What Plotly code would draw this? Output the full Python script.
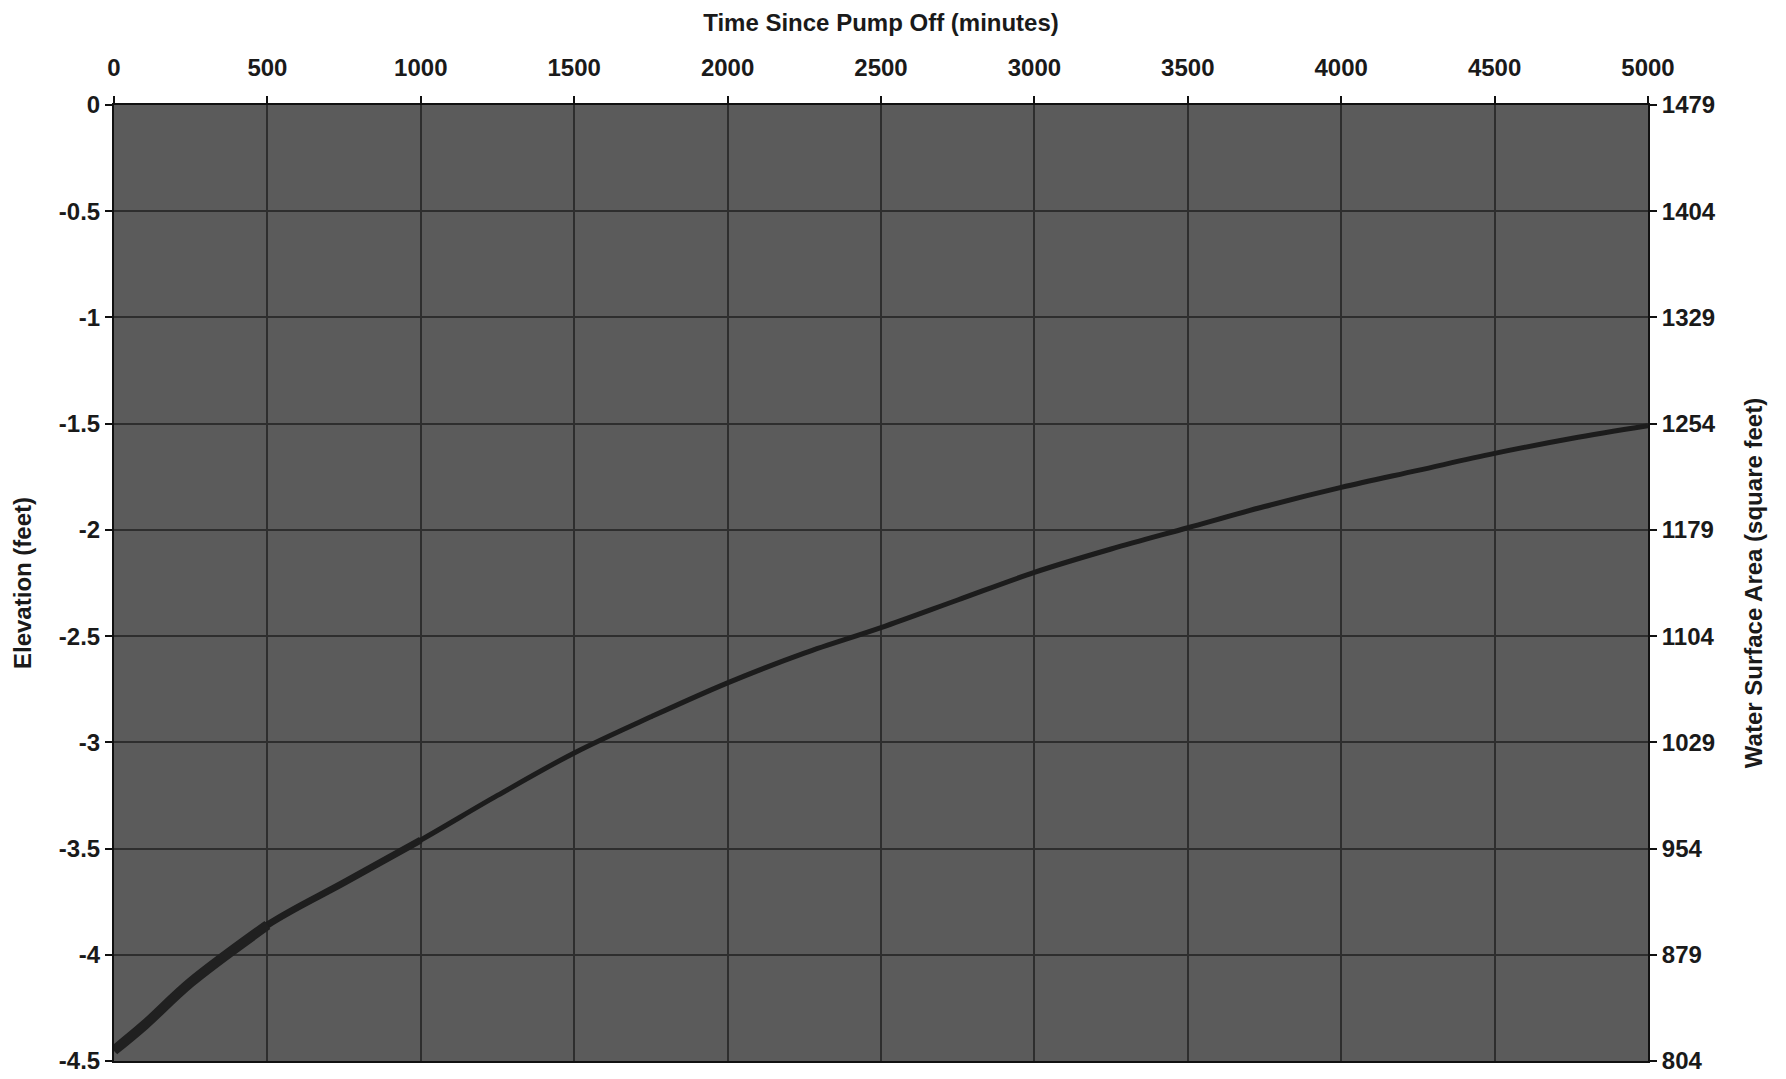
import plotly.graph_objects as go

# Data
time_min = [0, 100, 250, 500, 750, 1000, 1250, 1500, 1750, 2000, 2250, 2500,
            2750, 3000, 3250, 3500, 3750, 4000, 4250, 4500, 4750, 5000]
elevation_ft = [-4.45, -4.33, -4.13, -3.86, -3.66, -3.46, -3.25, -3.05, -2.88, -2.72,
                -2.58, -2.46, -2.33, -2.20, -2.09, -1.99, -1.89, -1.80, -1.72, -1.64,
                -1.57, -1.51]

x_ticks = [0, 500, 1000, 1500, 2000, 2500, 3000, 3500, 4000, 4500, 5000]
y_ticks = [0, -0.5, -1, -1.5, -2, -2.5, -3, -3.5, -4, -4.5]
y_tick_text = ["0", "-0.5", "-1", "-1.5", "-2", "-2.5", "-3", "-3.5", "-4", "-4.5"]
area_ticks = [1479, 1404, 1329, 1254, 1179, 1104, 1029, 954, 879, 804]

FONT = "Liberation Sans"
TICKFONT = dict(family=FONT, size=24, color="#1a1a1a")
TITLEFONT = dict(family=FONT, size=24, color="#1a1a1a")

fig = go.Figure()

fig.add_trace(go.Scatter(x=time_min, y=elevation_ft, mode="lines",
                         line=dict(color="#1c1c1c", width=5, shape="spline"),
                         showlegend=False, hoverinfo="skip"))
# progressively thicker early part of the curve
fig.add_trace(go.Scatter(x=time_min[:6], y=elevation_ft[:6], mode="lines",
                         line=dict(color="#1e1e1e", width=7, shape="spline"),
                         showlegend=False, hoverinfo="skip"))
fig.add_trace(go.Scatter(x=time_min[:4], y=elevation_ft[:4], mode="lines",
                         line=dict(color="#202020", width=10, shape="spline"),
                         showlegend=False, hoverinfo="skip"))
# invisible trace to anchor the right axis
fig.add_trace(go.Scatter(x=[None], y=[None], yaxis="y2", showlegend=False,
                         hoverinfo="skip"))

axis_common = dict(showline=True, linecolor="#111111", linewidth=2, mirror=True,
                   ticks="outside", ticklen=7, tickcolor="#111111", tickwidth=1.5,
                   showgrid=True, gridcolor="#2e2e2e", gridwidth=1.5,
                   zeroline=False, automargin=False, tickfont=TICKFONT)

fig.update_layout(
    width=1786, height=1079,
    margin=dict(l=106, r=146, t=97, b=26),
    paper_bgcolor="white",
    plot_bgcolor="#5b5b5b",
    font=dict(family=FONT, color="#1a1a1a"),
    xaxis=dict(axis_common, side="top", range=[0, 5000], tickvals=x_ticks,
               ticktext=[f"<b>{v}</b>" for v in x_ticks], ticklabelstandoff=10,
               title=dict(text="<b>Time Since Pump Off (minutes)</b>",
                          font=TITLEFONT, standoff=16)),
    yaxis=dict(axis_common, range=[-4.5, 0], tickvals=y_ticks,
               ticktext=[f"<b>{t}</b>" for t in y_tick_text],
               title=dict(text="<b>Elevation (feet)</b>", font=TITLEFONT, standoff=20)),
    yaxis2=dict(overlaying="y", side="right", range=[804, 1479], tickvals=area_ticks,
                ticktext=[f"<b>{v}</b>" for v in area_ticks],
                showgrid=False, zeroline=False, showline=False, automargin=False,
                ticks="outside", ticklen=8, tickcolor="#111111", tickwidth=1.5,
                tickfont=TICKFONT,
                title=dict(text="<b>Water Surface Area (square feet)</b>",
                           font=TITLEFONT, standoff=30)),
)

fig.write_html("out.html")
